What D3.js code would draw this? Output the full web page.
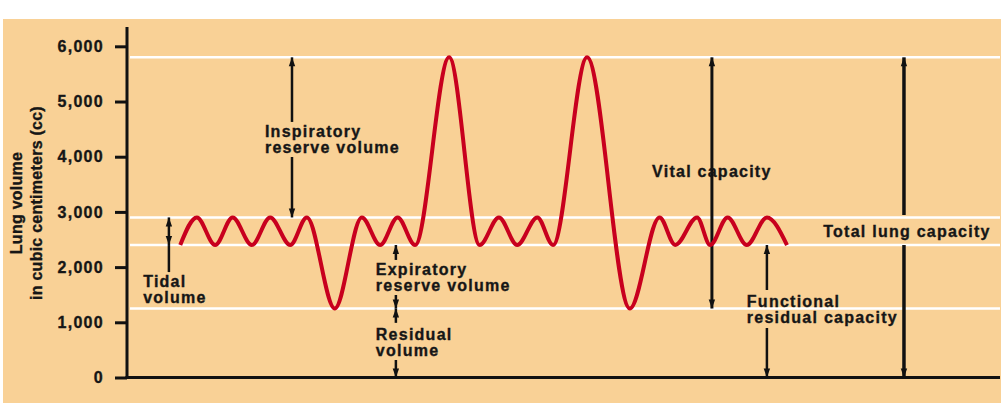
<!DOCTYPE html>
<html>
<head>
<meta charset="utf-8">
<script src="https://cdn.jsdelivr.net/npm/d3@7"></script>
<style>
html,body{margin:0;padding:0;background:#fff;}
svg{display:block;}
text{font-family:"Liberation Sans",Arial,Helvetica,sans-serif;font-weight:bold;fill:#161616;stroke:#161616;stroke-width:0.35px;}
</style>
</head>
<body>
<svg id="chart" width="1004" height="416"></svg>
<script>
// ---- data ----
const yTicks = [0, 1000, 2000, 3000, 4000, 5000, 6000];
const yTitle = ["Lung volume", "in cubic centimeters (cc)"];
// spirogram turning points (time in arbitrary units, volume in cc)
const breathTime = [6.1, 8.0, 10.1, 12.1, 14.3, 16.4, 18.7, 20.6, 23.8, 26.9, 29.0, 31.0, 33.0, 36.9, 40.4, 42.6, 44.7, 47.0, 48.8, 52.7, 57.6, 61.0, 62.8, 65.3, 66.8, 68.8, 71.0, 73.3, 75.6];
const breathVolume = [2400, 2900, 2400, 2900, 2400, 2900, 2400, 2900, 1250, 2900, 2400, 2900, 2400, 5800, 2400, 2900, 2400, 2900, 2400, 5800, 1250, 2900, 2400, 2900, 2400, 2900, 2400, 2900, 2400];
// reference levels (white lines)
const levelValues = [5800, 2900, 2400, 1250];
// annotation arrows: x (time), from volume, to volume, gap (volume range), heads
const arrowNames = ["Inspiratory", "Tidal", "TidalStem", "Expiratory", "Residual", "Vital", "Functional", "Total"];
const arrowX     = [18.9, 4.8, 4.8, 30.8, 30.8, 67.0, 73.3, 89.0];
const arrowFrom  = [5800, 2900, 2400, 2400, 1250, 5800, 2400, 5800];
const arrowTo    = [2900, 2400, 1910, 1250, 0, 1250, 0, 0];
const arrowGapHi = [4630, null, null, 2130, 990, null, 1585, 2944];
const arrowGapLo = [3995, null, null, 1495, 317, null, 897, 2400];
const arrowHeads = [2, 2, 0, 2, 2, 2, 2, 2];
const arrowWidth = [2.5, 2.5, 2.5, 2.5, 2.5, 3, 2.5, 3.5];
// labels: lines, x (time), baseline (volume)
const labelLines = [["Inspiratory", "reserve volume"], ["Tidal", "volume"], ["Expiratory", "reserve volume"], ["Residual", "volume"], ["Vital capacity"], ["Functional", "residual capacity"], ["Total lung capacity"]];
const labelX = [15.8, 1.85, 28.5, 28.5, 60.15, 71.0, 79.75];
const labelV = [4357, 1640, 1857, 679, 3630, 1277, 2545];

// ---- drawing ----
const svg = d3.select("#chart");
const x = d3.scaleLinear().domain([0, 100]).range([127, 1000]);
const y = d3.scaleLinear().domain([0, 6350]).range([377.5, 27]);

// background
svg.append("rect").attr("x", 3).attr("y", 19).attr("width", 998).attr("height", 384).attr("fill", "#f9d196");

// white level lines
svg.selectAll("line.level").data(levelValues).enter().append("line")
  .attr("x1", x(0) + 3).attr("x2", x(100)).attr("y1", d => y(d)).attr("y2", d => y(d))
  .attr("stroke", "#fff").attr("stroke-width", 2.5);

// y axis ticks and labels
const axis = d3.axisLeft(y).tickValues(yTicks).tickSize(12).tickPadding(11)
  .tickFormat(d3.format(","));
const gAxis = svg.append("g").attr("transform", `translate(${x(0)},0)`).call(axis);
gAxis.select(".domain").remove();
gAxis.selectAll(".tick line").attr("stroke", "#111").attr("stroke-width", 3);
gAxis.selectAll(".tick text").attr("font-size", 16).attr("letter-spacing", "1.3px")
  .attr("fill", "#161616").attr("stroke", "#161616").attr("stroke-width", 0.35)
  .style("font-family", '"Liberation Sans",Arial,sans-serif').style("font-weight", "bold");

// axis lines
svg.append("line").attr("x1", x(0)).attr("x2", x(0)).attr("y1", y(6350)).attr("y2", y(0) + 1.5)
  .attr("stroke", "#111").attr("stroke-width", 3);
svg.append("line").attr("x1", x(0) - 1.5).attr("x2", x(100)).attr("y1", y(0)).attr("y2", y(0))
  .attr("stroke", "#111").attr("stroke-width", 3);

// y title
svg.append("g").attr("transform", "translate(22,203) rotate(-90)")
  .selectAll("text").data(yTitle).enter().append("text")
  .attr("x", 0).attr("y", (d, i) => i * 20).attr("text-anchor", "middle")
  .attr("font-size", 16).attr("letter-spacing", "0.25px").text(d => d);

// arrows
function head(px, py, dir) { // dir: -1 up, 1 down ; tip at (px,py)
  const L = 9, W = 3.2;
  return `M${px},${py} L${px - W},${py - dir * L} L${px + W},${py - dir * L} Z`;
}
const gArrows = svg.append("g");
arrowNames.forEach((n, i) => {
  const ax = x(arrowX[i]);
  const yTop = y(arrowFrom[i]), yBot = y(arrowTo[i]);
  const segs = arrowGapHi[i] == null ? [[yTop, yBot]] : [[yTop, y(arrowGapHi[i])], [y(arrowGapLo[i]), yBot]];
  segs.forEach(s => {
    gArrows.append("line").attr("x1", ax).attr("x2", ax).attr("y1", s[0]).attr("y2", s[1])
      .attr("stroke", "#111").attr("stroke-width", arrowWidth[i]);
  });
  if (arrowHeads[i] === 2) {
    gArrows.append("path").attr("d", head(ax, yTop, -1)).attr("fill", "#111");
    gArrows.append("path").attr("d", head(ax, yBot, 1)).attr("fill", "#111");
  }
});

// spirogram line
const pts = breathTime.map((t, i) => [t, breathVolume[i]]);
const line = d3.line().x(d => x(d[0])).y(d => y(d[1])).curve(d3.curveMonotoneX);
svg.append("path").attr("d", line(pts)).attr("fill", "none")
  .attr("stroke", "#c8001e").attr("stroke-width", 4).attr("stroke-linecap", "butt");

// labels
labelLines.forEach((lines, i) => {
  const t = svg.append("text").attr("x", x(labelX[i])).attr("y", y(labelV[i]))
    .attr("font-size", 16).attr("letter-spacing", "1.25px");
  lines.forEach((l, j) => {
    t.append("tspan").attr("x", x(labelX[i])).attr("dy", j === 0 ? 0 : 16).text(l);
  });
});
</script>
</body>
</html>
